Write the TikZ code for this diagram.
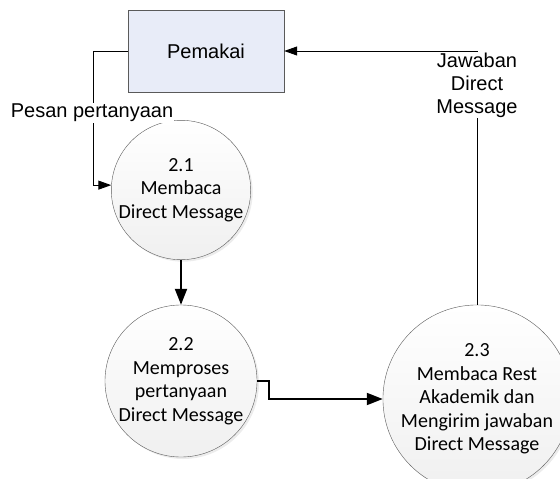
\documentclass[tikz,border=0pt]{standalone}
\usepackage{fontspec}
\setmainfont{Liberation Sans}
\newfontfamily\calibri{Carlito}
\usetikzlibrary{arrows.meta, shadows}
\definecolor{boxblue}{RGB}{232,236,248}
\definecolor{linegray}{RGB}{90,90,90}
\tikzset{
  process/.style={circle, draw=linegray, inner sep=0pt, top color=white, bottom color=black!6,
    drop shadow={shadow xshift=2pt, shadow yshift=-2pt, opacity=0.15},
    align=center, font=\calibri\fontsize{20}{23.5}\selectfont},
  entity/.style={rectangle, draw=linegray, fill=boxblue, minimum width=156pt, minimum height=82pt,
    font=\fontsize{20}{23}\selectfont},
  flowlabel/.style={fill=white, inner sep=1pt, align=center, font=\fontsize{20}{23}\selectfont},
  thinflow/.style={-{Triangle[length=13pt,width=9pt]}, line width=1pt},
  thickflow/.style={-{Triangle[length=16pt,width=12pt]}, line width=2pt}
}
\begin{document}
\begin{tikzpicture}[x=1pt,y=-1pt]
\clip (0,0) rectangle (560,479);

\node[entity] (pemakai) at (206,51){Pemakai};

\node[process, minimum size=132pt] (p21) at (181,190){2.1\\Membaca\\Direct Message};
\node[process, minimum size=132pt] (p22) at (181,381){2.2\\Memproses\\pertanyaan\\Direct Message};
\node[process, minimum size=172pt] (p23) at (477,399){2.3\\Membaca Rest\\Akademik dan\\Mengirim jawaban\\Direct Message};

\coordinate (pesan_bend) at (93,51);
\draw[thinflow] (pemakai.west) -- (pesan_bend) |- (p21.176);
\node[flowlabel] (pesan) at (92,113){Pesan pertanyaan};

\coordinate (jawaban_bend) at (477,51);
\draw[thinflow] (p23.north) -- (jawaban_bend) -- (pemakai.east);
\node[flowlabel] (jawaban) at (477,85){Jawaban\\Direct\\Message};

\draw[thickflow] (p21.south) -- (p22.north);

\coordinate (step_top) at (269,381);
\draw[thickflow] (p22.east) -- (step_top) |- (p23.west);
\end{tikzpicture}
\end{document}
